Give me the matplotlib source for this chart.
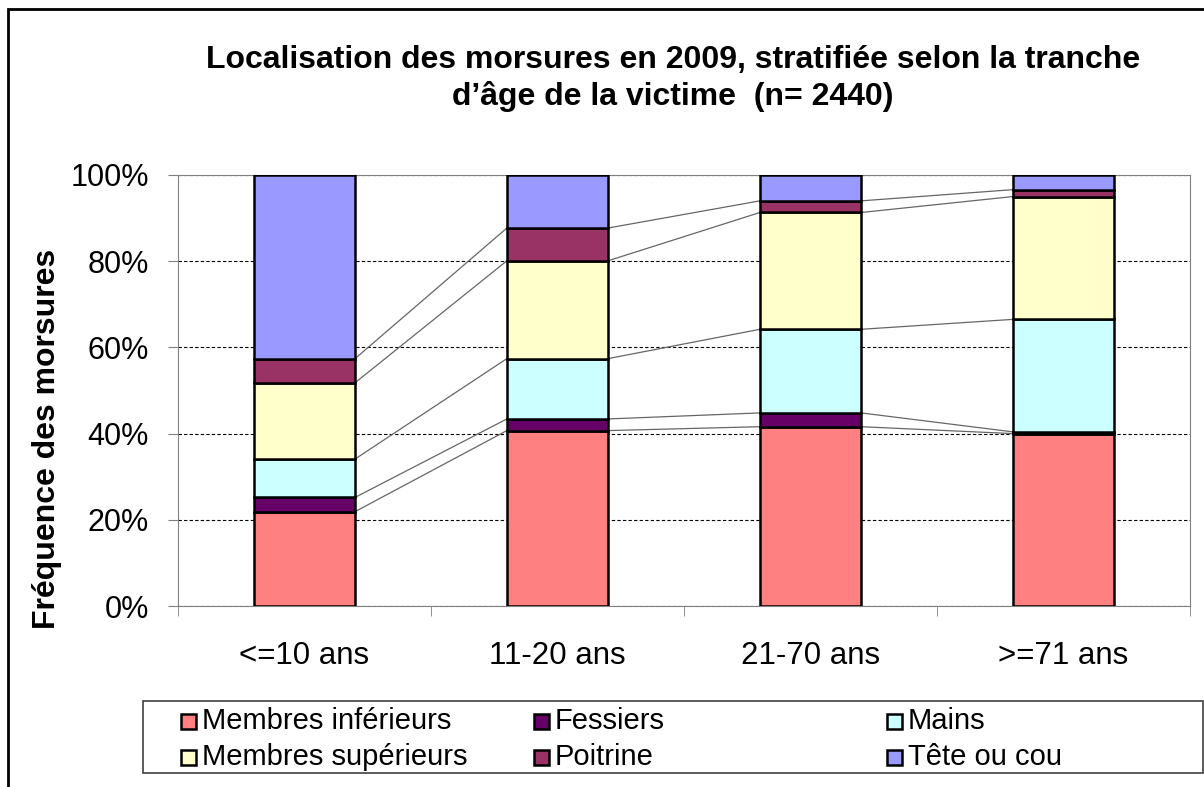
import numpy as np
import matplotlib.pyplot as plt
from matplotlib.patches import Rectangle

plt.rcParams['font.family'] = ['Liberation Sans', 'DejaVu Sans']

categories = ['<=10 ans', '11-20 ans', '21-70 ans', '>=71 ans']
series_names = ['Membres inférieurs', 'Fessiers', 'Mains',
                'Membres supérieurs', 'Poitrine', 'Tête ou cou']
membres_inf = [21.9, 40.7, 41.6, 40.0]
fessiers = [3.3, 2.7, 3.2, 0.4]
mains = [8.9, 14.0, 19.4, 26.1]
membres_sup = [17.7, 22.7, 27.1, 28.5]
poitrine = [5.6, 7.6, 2.7, 1.6]
tete = [42.6, 12.3, 6.0, 3.4]
colors = ['#ff8080', '#660066', '#ccffff', '#ffffcc', '#993366', '#9999ff']

values = [membres_inf, fessiers, mains, membres_sup, poitrine, tete]

W, H = 1204, 787
fig = plt.figure(figsize=(W / 100, H / 100), dpi=100)
ax = fig.add_axes([178 / W, 1 - 606 / H, 1012 / W, 431 / H])

x = np.arange(len(categories))
w = 0.4
bottom = np.zeros(len(categories))
for name, vals, c in zip(series_names, values, colors):
    vals = np.array(vals)
    ax.bar(x, vals, w, bottom=bottom, color=c, edgecolor='black',
           linewidth=1.8, label=name, zorder=3)
    bottom = bottom + vals
    # lignes de séries entre les barres
    if name != 'Tête ou cou':
        for i in range(len(categories) - 1):
            ax.plot([x[i] + w / 2, x[i + 1] - w / 2], [bottom[i], bottom[i + 1]],
                    color='#666666', linewidth=0.9, zorder=2)

ax.set_xlim(-0.5, 3.5)
ax.set_ylim(0, 100)
ax.set_yticks([0, 20, 40, 60, 80, 100])
ax.set_yticklabels(['0%', '20%', '40%', '60%', '80%', '100%'], fontsize=22)
ax.yaxis.grid(True, linestyle=(0, (3, 2)), color='black', linewidth=0.8, zorder=1)
ax.set_xticks(x)
ax.set_xticklabels(categories, fontsize=22.5)
ax.tick_params(axis='x', length=0, pad=25)
ax.set_xticks([-0.5, 0.5, 1.5, 2.5, 3.5], minor=True)
ax.tick_params(axis='x', which='minor', length=7, color='#808080')
ax.tick_params(axis='y', length=7, color='#808080', pad=14)
for s in ax.spines.values():
    s.set_color('#808080')
ax.set_ylabel('Fréquence des morsures', fontsize=23, fontweight='bold',
              va='center', ha='center')
ax.yaxis.set_label_coords((47 - 178) / 1012, (606 - 439) / 431)

fig.text(673 / W, 1 - 60 / H, 'Localisation des morsures en 2009, stratifiée selon la tranche',
         ha='center', va='center', fontsize=23, fontweight='bold')
fig.text(673 / W, 1 - 97 / H, "d’âge de la victime  (n= 2440)",
         ha='center', va='center', fontsize=23, fontweight='bold')

# cadre extérieur
fig.patches.append(Rectangle((8 / W, -0.01), 1, 1 - 9 / H + 0.01, transform=fig.transFigure,
                             fill=False, edgecolor='black', linewidth=2))

# légende
fig.patches.append(Rectangle((143 / W, 1 - 773 / H), 1060 / W, 72 / H, transform=fig.transFigure,
                             fill=False, edgecolor='#404040', linewidth=1.2))
order = [0, 1, 2, 3, 4, 5]
col_x = [181, 534, 887]
row_y = [721, 757]
for k, i in enumerate(order):
    cx = col_x[k % 3]
    ry = row_y[k // 3]
    fig.patches.append(Rectangle((cx / W, 1 - (ry + 8) / H), 15 / W, 15 / H,
                                 transform=fig.transFigure, facecolor=colors[i],
                                 edgecolor='black', linewidth=1.8))
    fig.text((cx + 21) / W, 1 - ry / H, series_names[i], ha='left', va='center',
             fontsize=21)

fig.savefig('out.png', dpi=100)
